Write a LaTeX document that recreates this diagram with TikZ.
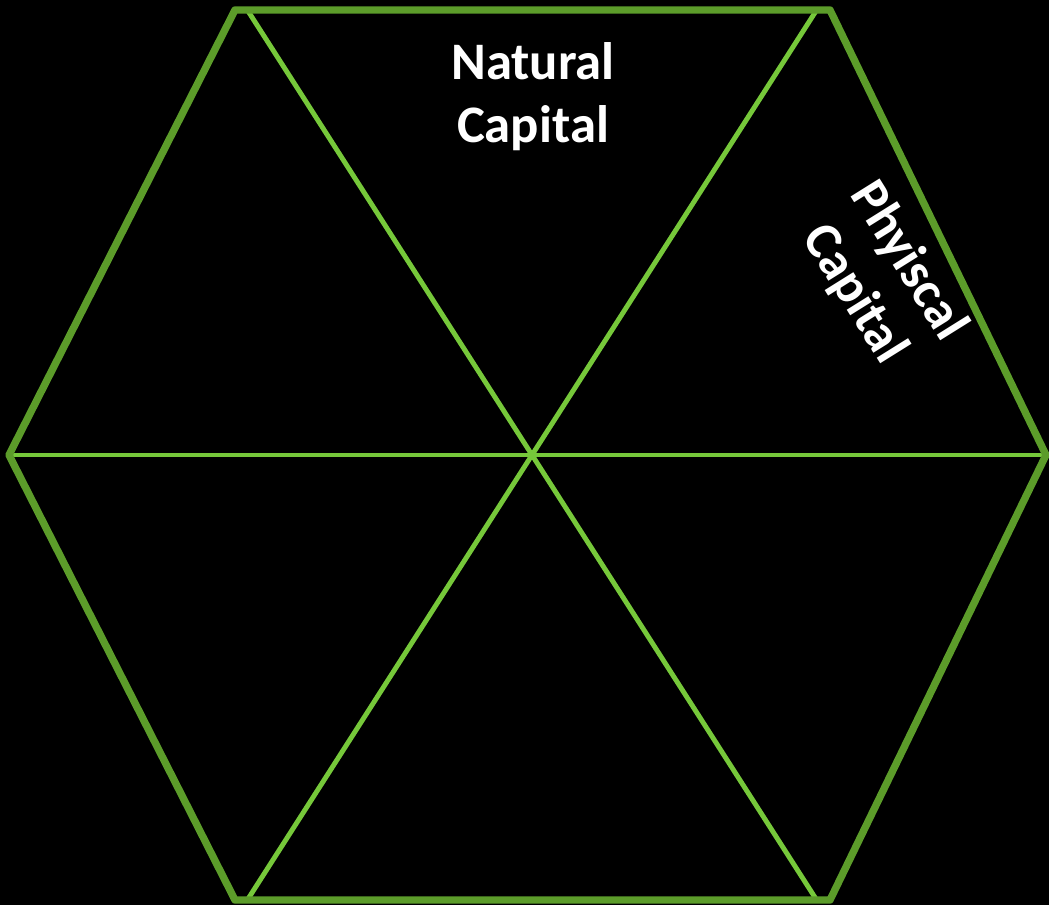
\documentclass[tikz,border=0pt]{standalone}
\usepackage{fontspec}
\setmainfont{Carlito}
\usepackage{xcolor}
\definecolor{rimgreen}{RGB}{92,156,42}
\definecolor{spokegreen}{RGB}{118,200,58}

\begin{document}
\begin{tikzpicture}[x=0.02cm, y=-0.02cm, line join=round,
  rim/.style={rimgreen, line width=4.2pt},
  spoke/.style={spokegreen, line width=2.8pt},
  label/.style={white, font=\fontsize{30}{36}\selectfont\bfseries, align=center}]
  % background
  \fill[black] (0,0) rectangle (1049,905);
  \useasboundingbox (0,0) rectangle (1049,905);
  % corners
  \coordinate (tl) at (235,10);
  \coordinate (tr) at (830,10);
  \coordinate (r) at (1046,455);
  \coordinate (br) at (830,900);
  \coordinate (bl) at (235,900);
  \coordinate (l) at (9,455);
  \coordinate (c) at (532,455);
  % spokes
  \draw[spoke] (248,11) coordinate (s1) -- (c) -- (816,899) coordinate (s2);
  \draw[spoke] (816,11) coordinate (s3) -- (c) -- (248,899) coordinate (s4);
  \draw[spoke] (l) -- (r);
  % rim
  \draw[rim] (tl) -- (tr) -- (r) -- (br) -- (bl) -- (l) -- cycle;
  % labels
  \node[label] (natural) at (533,97) {Natural\\Capital};
  \node[label, rotate=-58] (physical) at (881,278) {Phyiscal\\Capital};
\end{tikzpicture}
\end{document}
